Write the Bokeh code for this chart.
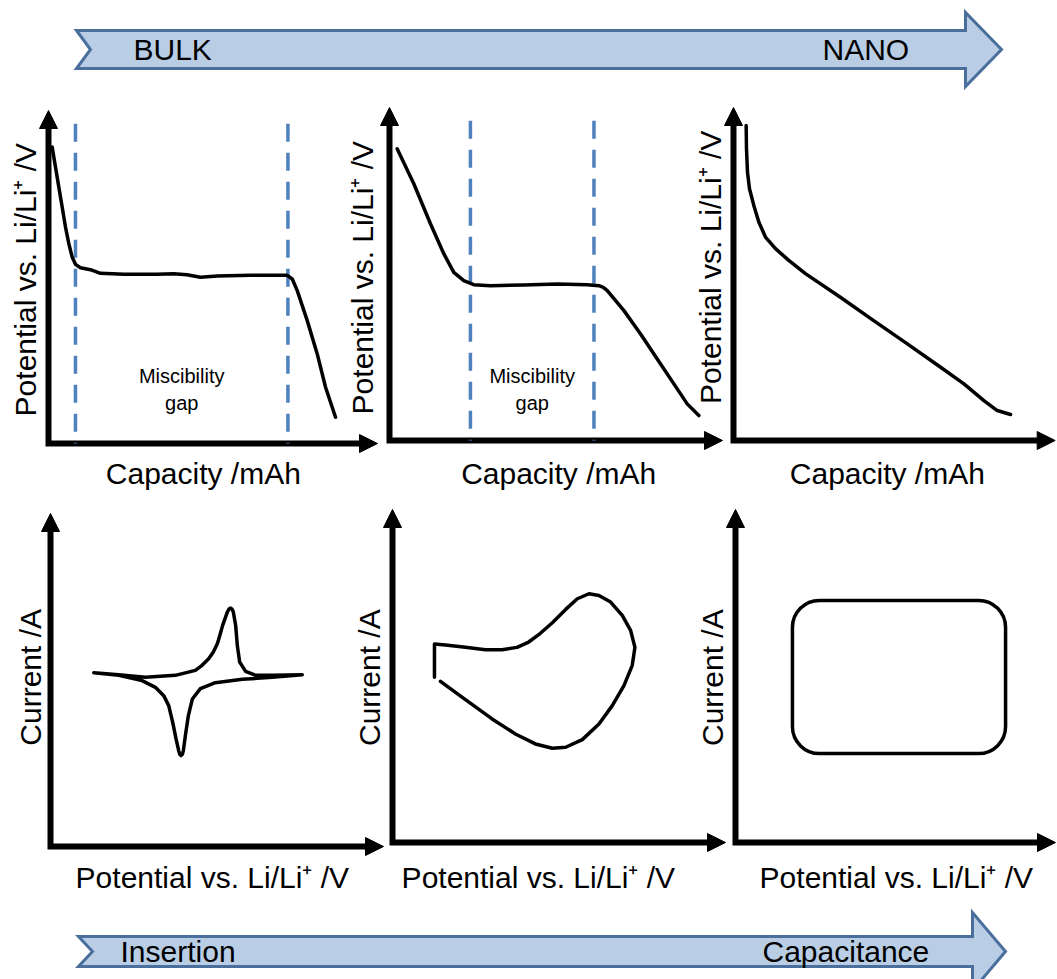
import math

from bokeh.core.properties import value
from bokeh.embed import file_html
from bokeh.models import Arrow, NormalHead, Range1d
from bokeh.plotting import figure
from bokeh.resources import INLINE

W, H = 1057, 979
S = 3.33            # screen pixels per data unit inside each panel
FONT = value("Liberation Sans")

# ---------------------------------------------------------------- data
# Galvanostatic discharge curves: capacity (a.u.) vs potential (a.u.)
bulk_capacity = [1.1, 2.1, 3.1, 4.1, 5.1, 6.1, 7.1, 8.1, 9.6, 12.6, 15.6, 22.6, 32.6,
                 37.6, 41.6, 45.6, 50.7, 60.7, 71.7, 73.2, 74.7, 77.7, 80.7, 83.2,
                 86.2]
bulk_potential = [89.0, 83.0, 77.0, 71.0, 65.0, 60.0, 56.0, 53.8, 52.8, 52.2, 51.1,
                  50.8, 50.8, 51.0, 50.7, 49.9, 50.3, 50.5, 50.5, 49.4, 45.9, 36.9,
                  26.9, 16.9, 7.9]
bulk_gap = [8.1, 71.9]

meso_capacity = [2.3, 7.3, 12.3, 16.3, 19.3, 22.3, 25.3, 30.3, 40.3, 50.4, 59.4, 62.9,
                 64.2, 65.4, 70.4, 75.4, 80.4, 85.4, 89.4, 92.9]
meso_potential = [87.6, 77.1, 65.1, 56.1, 50.5, 48.0, 46.8, 46.5, 46.7, 47.0, 46.8, 46.5,
                  46.0, 45.0, 39.0, 32.0, 24.5, 17.0, 11.0, 7.5]
meso_gap = [24.3, 61.4]

nano_capacity = [3.8, 3.9, 4.2, 4.8, 6.1, 7.6, 9.6, 12.6, 16.6, 21.6, 32.1, 42.1,
                 52.2, 62.2, 69.2, 75.2, 79.2, 83.2]
nano_potential = [94.6, 87.6, 80.6, 75.6, 70.6, 65.6, 61.1, 57.6, 54.1, 50.1, 43.0,
                  36.0, 29.0, 22.0, 17.0, 12.0, 9.0, 7.8]

# Cyclic voltammograms: potential (a.u.) vs current (a.u.)
bulk_cv_potential = [13.0, 20.5, 27.5, 31.5, 34.0, 35.5, 36.7, 37.7, 38.5, 38.8, 39.2,
                     39.6, 39.9, 40.5, 41.4, 42.6, 45.0, 49.5, 57.6, 66.6, 75.6,
                     66.6, 61.6, 58.6, 56.8, 56.1, 55.6, 54.9, 54.5, 54.1, 53.6, 53.1,
                     51.7, 50.9, 50.1, 48.9, 47.5, 45.5, 43.5, 37.5, 28.5, 20.5, 13.0]
bulk_cv_current = [52.2, 51.4, 49.8, 47.8, 45.3, 42.3, 37.3, 32.3, 28.8, 27.7, 27.3,
                   27.7, 28.8, 33.3, 39.3, 44.3, 47.4, 49.2, 50.2, 50.8, 51.6,
                   51.4, 51.4, 52.6, 55.4, 60.4, 66.4, 70.4, 71.3, 71.6, 71.3, 70.4,
                   66.4, 63.6, 60.9, 58.4, 56.4, 54.4, 52.9, 51.4, 50.8, 51.6, 52.2]

meso_cv_potential = [12.6, 12.6, 15.9, 21.9, 27.9, 32.9, 37.4, 40.9, 43.9, 48.0, 52.0,
                     55.5, 59.0, 62.0, 65.5, 69.0, 71.5, 72.8, 72.0, 69.5, 66.0, 62.0,
                     57.0, 52.0, 48.0, 42.9, 36.9, 29.9, 21.9, 14.4]
meso_cv_current = [49.6, 59.6, 59.3, 58.6, 57.9, 57.9, 58.6, 60.2, 62.4, 66.0, 70.0,
                   73.2, 74.7, 74.2, 72.2, 68.2, 63.7, 58.6, 53.2, 47.1, 41.1, 35.6,
                   30.9, 28.6, 28.3, 29.6, 32.6, 37.1, 42.9, 48.4]

# Ideal capacitor: a box between two potential limits and two current levels
cap_potential = [17.1, 81.1]
cap_current = [26.7, 72.7]

# ---------------------------------------------------------------- text
gc_xlabel = "Capacity /mAh"
gc_ylabel = "Potential vs. Li/Li\u207a /V"
cv_xlabel = "Potential vs. Li/Li\u207a /V"
cv_ylabel = "Current /A"
gap_label = ["Miscibility", "gap"]
size_labels = ["BULK", "NANO"]
storage_labels = ["Insertion", "Capacitance"]

# ---------------------------------------------------------------- layout
panels = {
    "gc_bulk": dict(origin=(48, 443), x_tip=98.8, xl=(46.5, -9.0), yl=(-6.9, 49.2)),
    "gc_meso": dict(origin=(389, 440), x_tip=100.0, xl=(50.8, -9.9), yl=(-8.1, 48.9)),
    "gc_nano": dict(origin=(733, 440), x_tip=96.6, xl=(46.2, -9.9), yl=(-6.9, 52.0)),
    "cv_bulk": dict(origin=(50, 846), x_tip=100.0, xl=(48.6, -9.3), yl=(-6.0, 50.8)),
    "cv_meso": dict(origin=(392, 842), x_tip=100.0, xl=(43.8, -10.5), yl=(-6.9, 49.5)),
    "cv_nano": dict(origin=(735, 842), x_tip=96.1, xl=(48.3, -10.5), yl=(-6.9, 49.5)),
}
Y_TIP = 100.0
HEAD = 18           # arrowhead size in px

p = figure(width=W, height=H, x_range=Range1d(0, W), y_range=Range1d(H, 0),
           output_backend="svg", toolbar_location=None, min_border=0,
           x_axis_location=None, y_axis_location=None,
           background_fill_color="white", border_fill_color="white")
p.grid.visible = False
p.outline_line_color = None

for key, cfg in panels.items():
    ox, oy = cfg["origin"]
    p.extra_x_ranges[key] = Range1d(-ox / S, (W - ox) / S)
    p.extra_y_ranges[key] = Range1d((oy - H) / S, oy / S)


def on(key):
    return dict(x_range_name=key, y_range_name=key)


# ---------------------------------------------------------------- banners
def banner(x0, x1, tip, yc, half, head_half, notch):
    xs = [x0, x1, x1, tip, x1, x1, x0, x0 + notch]
    ys = [yc - half, yc - half, yc - head_half, yc, yc + head_half, yc + half,
          yc + half, yc]
    return xs, ys


for (x0, x1, tip, yc, half, hh, notch), labels, lx in [
        ((76, 965, 1001, 49, 19, 37, 14), size_labels, (133, 822)),
        ((78, 972, 1005, 951, 15, 39, 14), storage_labels, (120, 762))]:
    bx, by = banner(x0, x1, tip, yc, half, hh, notch)
    p.patch(bx, by, fill_color="#b9cde5", line_color="#4a6f9c", line_width=3,
            line_join="miter")
    p.text(x=list(lx), y=[yc, yc], text=labels, text_font=FONT,
           text_font_size="30px", text_align="left", text_baseline="middle",
           text_color="black")

# ---------------------------------------------------------------- axes
for key, cfg in panels.items():
    xt = cfg["x_tip"]
    back = HEAD / S * 0.6
    p.line([0, 0, xt - back], [Y_TIP - back, 0, 0], line_color="black",
           line_width=6, line_join="miter", **on(key))
    for (xs, ys, xe, ye) in [(0, Y_TIP - 6, 0, Y_TIP), (xt - 6, 0, xt, 0)]:
        p.add_layout(Arrow(x_start=xs, y_start=ys, x_end=xe, y_end=ye,
                           line_alpha=0, line_width=1,
                           end=NormalHead(size=HEAD, fill_color="black",
                                          line_color="black", line_width=1),
                           **on(key)))
    kind = key.split("_")[0]
    xlab = gc_xlabel if kind == "gc" else cv_xlabel
    ylab = gc_ylabel if kind == "gc" else cv_ylabel
    p.text(x=[cfg["xl"][0]], y=[cfg["xl"][1]], text=[xlab], text_font=FONT,
           text_font_size="30px", text_align="center", text_baseline="middle",
           **on(key))
    p.text(x=[cfg["yl"][0]], y=[cfg["yl"][1]], text=[ylab], text_font=FONT,
           text_font_size="30px", text_align="center", text_baseline="middle",
           angle=math.pi / 2, **on(key))

# ---------------------------------------------------------------- miscibility gaps
for key, gap, label_y in [("gc_bulk", bulk_gap, (20.4, 12.3)),
                          ("gc_meso", meso_gap, (19.5, 11.4))]:
    p.segment(x0=gap, y0=[96, 96], x1=gap, y1=[0, 0], line_color="#4f81bd",
              line_width=3.5, line_dash="18 11", **on(key))
    mid = sum(gap) / 2
    p.text(x=[mid, mid], y=list(label_y), text=gap_label, text_font=FONT,
           text_font_size="20px", text_align="center", text_baseline="middle",
           **on(key))

# ---------------------------------------------------------------- curves
curve = dict(line_color="black", line_width=3.5, line_join="round", line_cap="round")
p.line(bulk_capacity, bulk_potential, **curve, **on("gc_bulk"))
p.line(meso_capacity, meso_potential, **curve, **on("gc_meso"))
p.line(nano_capacity, nano_potential, **curve, **on("gc_nano"))
p.line(bulk_cv_potential, bulk_cv_current, **curve, **on("cv_bulk"))
p.line(meso_cv_potential, meso_cv_current, **curve, **on("cv_meso"))
p.quad(left=[cap_potential[0]], right=[cap_potential[1]],
       bottom=[cap_current[0]], top=[cap_current[1]], border_radius=27,
       fill_color=None, line_color="black", line_width=3.5, **on("cv_nano"))

open("out.html", "w").write(file_html(p, INLINE))
